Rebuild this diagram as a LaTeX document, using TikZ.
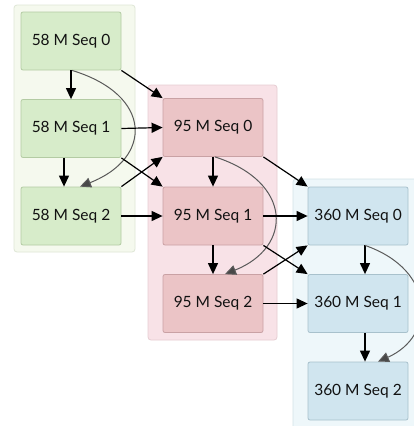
\documentclass[tikz,border=0pt]{standalone}
\usepackage{fontspec}
\setmainfont{Lato}
\usetikzlibrary{arrows.meta}
\definecolor{gbg}{HTML}{F5F9EE}
\definecolor{gbd}{HTML}{DFE6D6}
\definecolor{gfill}{HTML}{D7ECCA}
\definecolor{gdraw}{HTML}{B3CBA3}
\definecolor{pbg}{HTML}{F8E2E7}
\definecolor{pbd}{HTML}{E6CDD2}
\definecolor{pfill}{HTML}{EBC4C6}
\definecolor{pdraw}{HTML}{C9A1A4}
\definecolor{bbg}{HTML}{EEF7FA}
\definecolor{bbd}{HTML}{D4E3E8}
\definecolor{bfill}{HTML}{D0E5EF}
\definecolor{bdraw}{HTML}{A8C1CC}
\definecolor{curvec}{HTML}{5A5A5A}
\definecolor{txt}{HTML}{111111}
\tikzset{
  seqbox/.style={draw, rounded corners=2pt, line width=0.8pt, minimum width=100pt,
    minimum height=58pt, inner sep=0pt, text=txt, font=\fontsize{15.5}{16}\selectfont},
  gbox/.style={seqbox, fill=gfill, draw=gdraw},
  pbox/.style={seqbox, fill=pfill, draw=pdraw},
  bbox/.style={seqbox, fill=bfill, draw=bdraw},
  edge/.style={line width=1.2pt, -{Triangle[length=11pt,width=10pt]}},
  backedge/.style={line width=1pt, draw=curvec, -{Triangle[length=11pt,width=10pt,fill=curvec!80!black]}},
}
\begin{document}
\begin{tikzpicture}[x=1pt,y=-1pt]
\useasboundingbox (0,0) rectangle (413,426);
\fill[white] (0,0) rectangle (413,426);
% clusters
\draw[fill=gbg, draw=gbd, line width=0.8pt, rounded corners=3pt] (14,5) rectangle (135,252);
\draw[fill=pbg, draw=pbd, line width=0.8pt, rounded corners=3pt] (148,85) rectangle (277,340);
\draw[fill=bbg, draw=bbd, line width=0.8pt, rounded corners=3pt] (293,179) rectangle (440,440);
% nodes
\node[gbox] (g0) at (71,41) {58 M Seq 0};
\node[gbox] (g1) at (71,128.5) {58 M Seq 1};
\node[gbox] (g2) at (71,216) {58 M Seq 2};
\node[pbox] (p0) at (213,127.5) {95 M Seq 0};
\node[pbox] (p1) at (213,216) {95 M Seq 1};
\node[pbox] (p2) at (213,303.5) {95 M Seq 2};
\node[bbox] (b0) at (358,216) {360 M Seq 0};
\node[bbox] (b1) at (358,303.5) {360 M Seq 1};
\node[bbox] (b2) at (358,391) {360 M Seq 2};
% green internal
\draw[edge] (g0.south) -- (g1.north);
\draw[edge] ([xshift=-7pt]g1.south) -- ([xshift=-7pt]g2.north);
\draw[backedge] ([xshift=1pt]g0.south) .. controls (153,95) and (153,158) .. ([xshift=9pt]g2.north);
% pink internal
\draw[edge] (p0.south) -- (p1.north);
\draw[edge] (p1.south) -- (p2.north);
\draw[backedge] ([xshift=2pt]p0.south) .. controls (293,182) and (293,247) .. ([xshift=12pt]p2.north);
% blue internal
\draw[edge] ([xshift=7pt]b0.south) -- ([xshift=7pt]b1.north);
\draw[edge] ([xshift=7pt]b1.south) -- ([xshift=7pt]b2.north);
\draw[backedge] ([xshift=7pt]b0.south) .. controls (436,270) and (436,336) .. ([xshift=20pt]b2.north);
% green -> pink
\draw[edge] (g0.south east) -- (p0.north west);
\draw[edge] (g1.east) -- (p0.west);
\draw[edge] (g1.south east) -- (p1.north west);
\draw[edge] (g2.north east) -- (p0.south west);
\draw[edge] (g2.east) -- (p1.west);
% pink -> blue
\draw[edge] (p0.south east) -- (b0.north west);
\draw[edge] (p1.east) -- (b0.west);
\draw[edge] (p1.south east) -- (b1.north west);
\draw[edge] (p2.north east) -- (b0.south west);
\draw[edge] (p2.east) -- (b1.west);
\end{tikzpicture}
\end{document}
